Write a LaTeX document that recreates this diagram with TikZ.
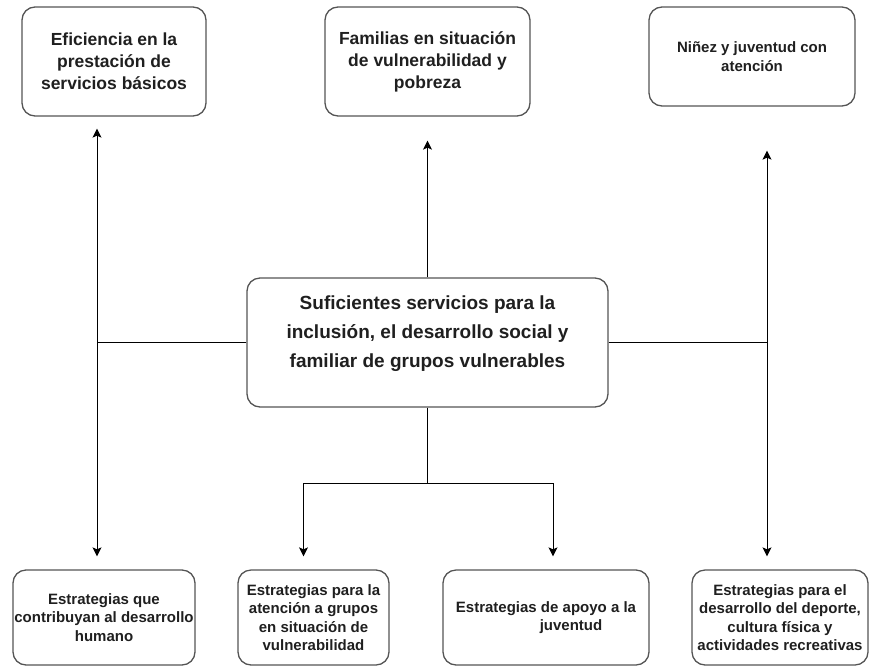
\documentclass[tikz,border=0pt]{standalone}
\usepackage{fontspec}
\setmainfont{Liberation Sans}
\usepackage{tikz}
\usetikzlibrary{arrows.meta}
\definecolor{bordegris}{rgb}{0.33, 0.33, 0.33}
\definecolor{textonegro}{rgb}{0.12, 0.12, 0.12}

\begin{document}
\begin{tikzpicture}[x=1pt, y=-1pt,
    caja/.style={draw=bordegris, line width=1.3pt, rounded corners=13pt,
        align=center, inner sep=0pt, text=textonegro},
    fuentesup/.style={font=\bfseries\fontsize{17.5}{22}\selectfont},
    fuenteinf/.style={font=\bfseries\fontsize{15}{18.5}\selectfont},
    flecha/.style={-{Stealth[length=9pt, width=9pt, inset=2pt]}, line width=1pt, black},
    linea/.style={line width=1pt, black}]
    \useasboundingbox (0,0) rectangle (869,667);

    % Top row: the results
    \node(efic)[caja, fuentesup, minimum width=184pt, minimum height=109pt] at (114,61.5)
        {Eficiencia en la\\prestación de\\servicios básicos};
    \node(fam)[caja, fuentesup, minimum width=205pt, minimum height=109pt] at (427.5,61.5)
        {Familias en situación\\de vulnerabilidad y\\pobreza};
    \node(ninez)[caja, fuenteinf, minimum width=206pt, minimum height=99pt] at (752,56.5)
        {Niñez y juventud con\\atención};

    % Central objective
    \node(centro)[caja, font=\bfseries\fontsize{19}{29}\selectfont,
        minimum width=361pt, minimum height=129pt] at (427.5,342.5)
        {Suficientes servicios para la\\inclusión, el desarrollo social y\\familiar de grupos vulnerables\\[-8pt]\mbox{}};

    % Bottom row: the strategies
    \node(estrA)[caja, fuenteinf, minimum width=182pt, minimum height=95pt] at (104,617.5)
        {Estrategias que\\contribuyan al desarrollo\\humano};
    \node(estrB)[caja, fuenteinf, minimum width=151pt, minimum height=95pt] at (313.5,617.5)
        {Estrategias para la\\atención a grupos\\en situación de\\vulnerabilidad};
    \node(estrC)[caja, fuenteinf, minimum width=206pt, minimum height=95pt] at (546,617.5)
        {Estrategias de apoyo a la\\\hspace*{50pt}juventud};
    \node(estrD)[caja, fuenteinf, minimum width=176pt, minimum height=95pt] at (780,617.5)
        {Estrategias para el\\desarrollo del deporte,\\cultura física y\\actividades recreativas};

    % Left branch (up and down)
    \draw[flecha, shorten >=12pt] (centro.west) -| ([xshift=-17pt]efic.south);
    \draw[flecha, shorten >=13pt] (centro.west) -| ([xshift=-7pt]estrA.north);

    % Middle branch
    \draw[flecha, shorten >=24pt] (centro.north) -- (fam.south);
    \draw[linea] (centro.south) -- ++(0,76) coordinate(reparto);
    \draw[flecha, shorten >=13pt] (reparto) -| ([xshift=-10pt]estrB.north);
    \draw[flecha, shorten >=13pt] (reparto) -| ([xshift=7pt]estrC.north);

    % Right branch (up and down)
    \draw[flecha, shorten >=44pt] (centro.east) -| ([xshift=15pt]ninez.south);
    \draw[flecha, shorten >=13pt] (centro.east) -| ([xshift=-13pt]estrD.north);

\end{tikzpicture}
\end{document}
